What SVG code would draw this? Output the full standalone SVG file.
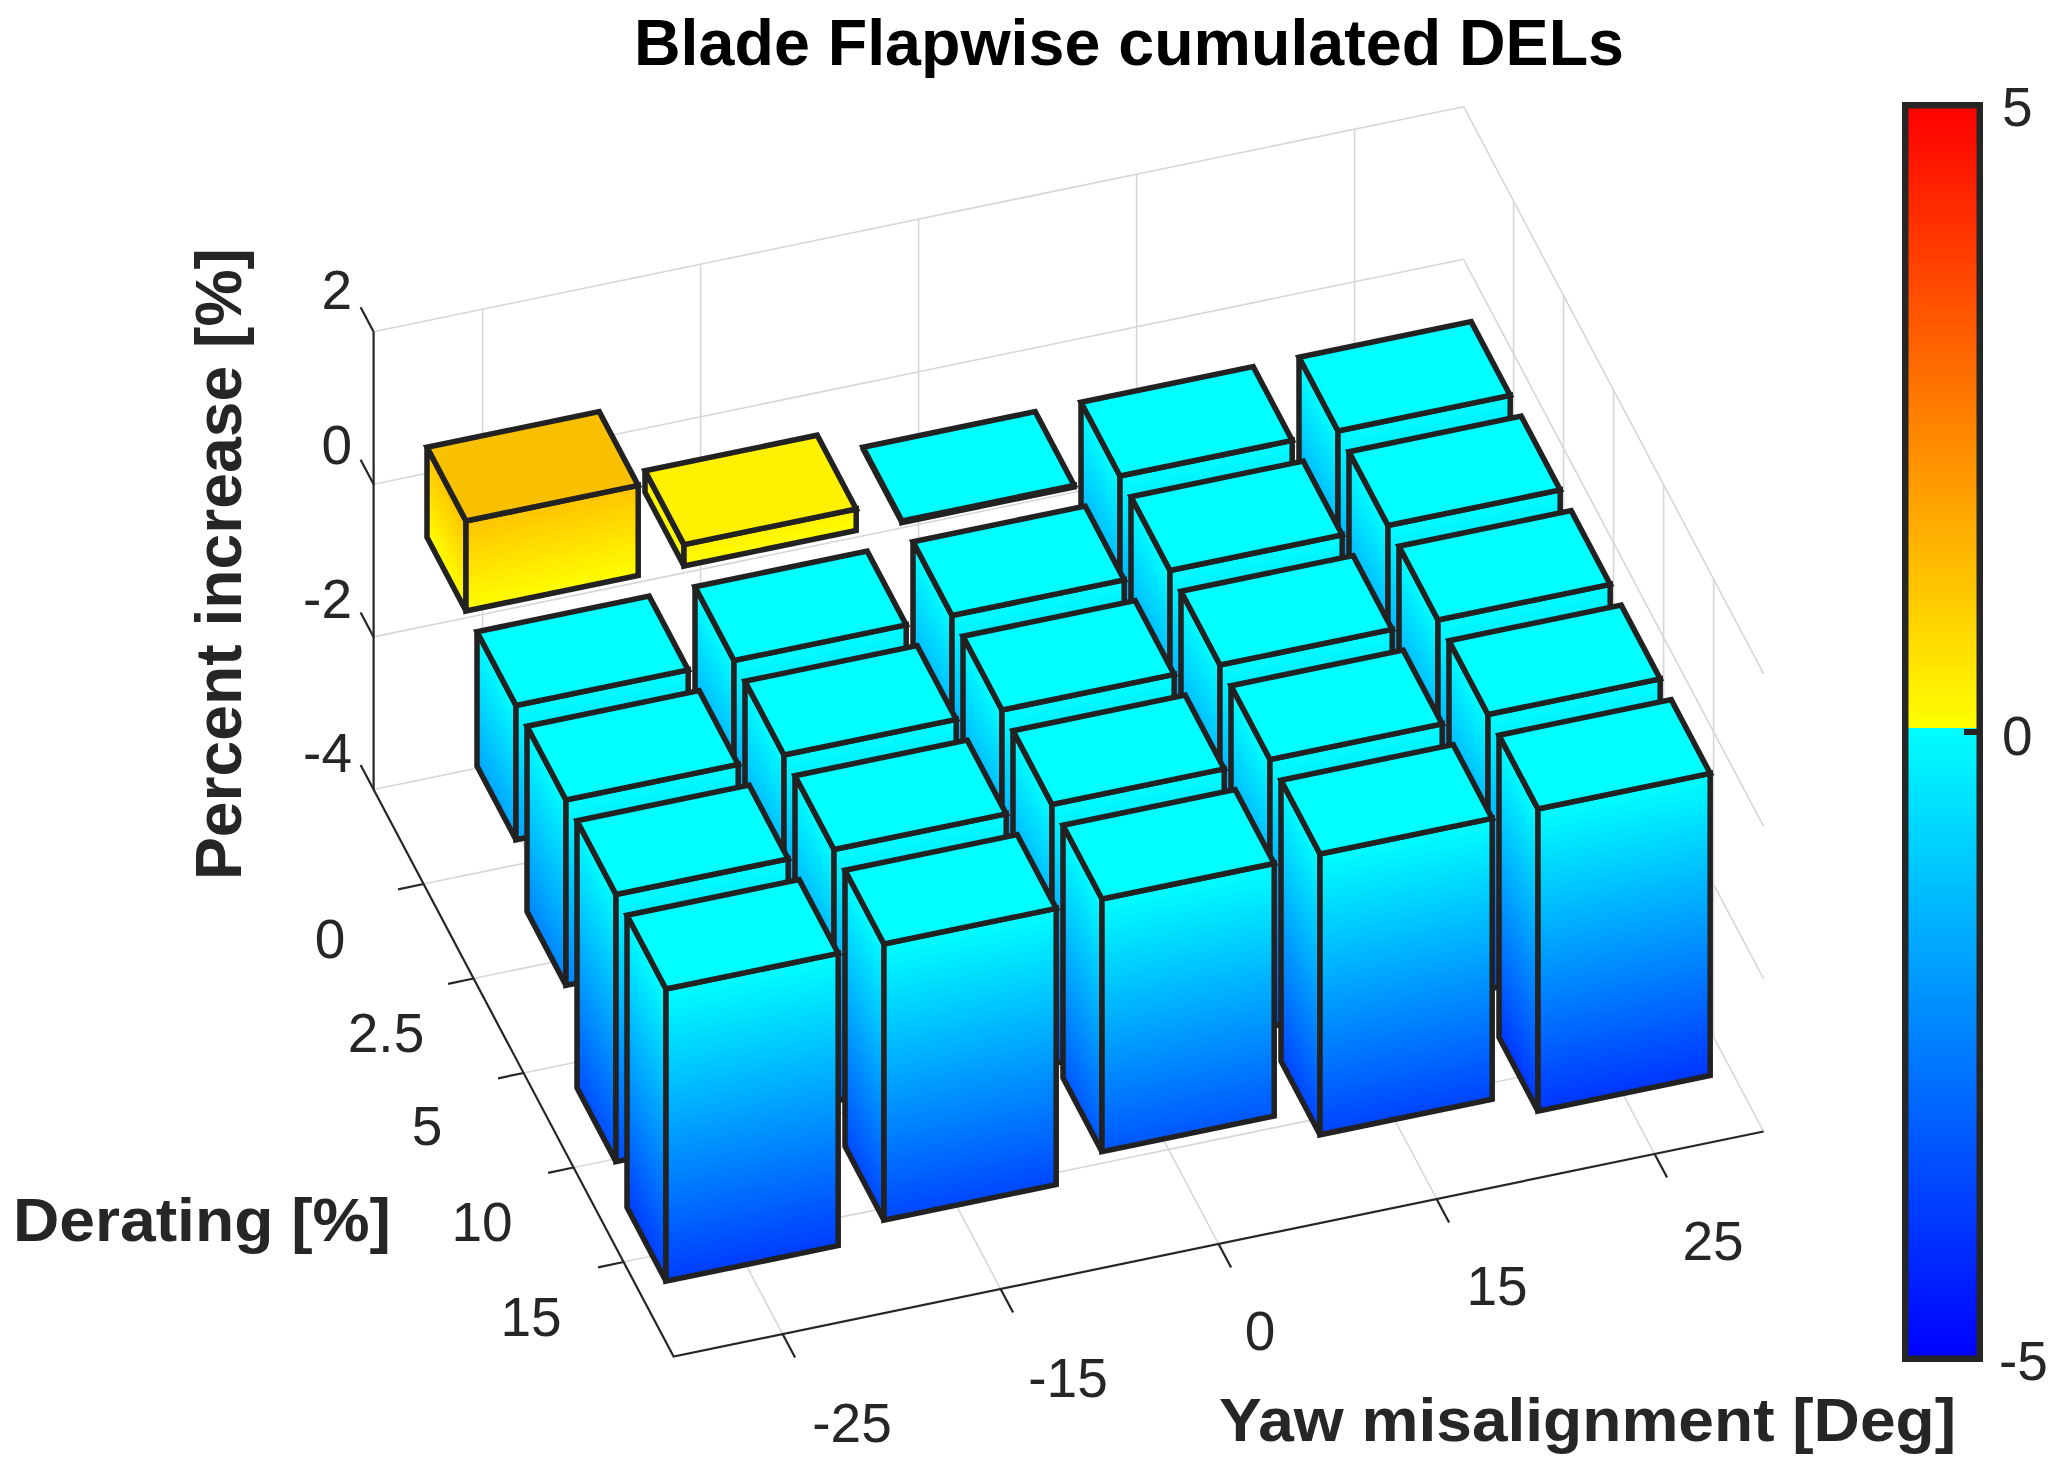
<svg xmlns="http://www.w3.org/2000/svg" width="2067" height="1474" viewBox="0 0 2067 1474">
<style>
.grid{stroke:#d6d6d6;stroke-width:1.6;fill:none}
.ax{stroke:#262626;stroke-width:2.2;fill:none}
.e{stroke:#222;stroke-width:5.5;stroke-linejoin:miter}
.t{fill:#00FFFF}
.f{fill:url(#gF)}
.l{fill:url(#gL)}
.lbl{font-family:"Liberation Sans",Arial,sans-serif;fill:#262626;font-size:55px}
.b{font-family:"Liberation Sans",Arial,sans-serif;font-weight:bold;fill:#262626}
</style>
<defs>
<linearGradient id="gF" gradientUnits="userSpaceOnUse" x1="-66.6" y1="54.7" x2="9" y2="420.6"><stop offset="0" stop-color="#00FFFF"/><stop offset="1" stop-color="#0000FF"/></linearGradient>
<linearGradient id="gL" gradientUnits="userSpaceOnUse" x1="-105.6" y1="-19.1" x2="-263.2" y2="64.2"><stop offset="0" stop-color="#00FFFF"/><stop offset="1" stop-color="#0000FF"/></linearGradient>
<linearGradient id="wF" gradientUnits="userSpaceOnUse" x1="-66.6" y1="54.7" x2="-142.2" y2="-311.2"><stop offset="0" stop-color="#FFFF00"/><stop offset="1" stop-color="#FF0000"/></linearGradient>
<linearGradient id="wL" gradientUnits="userSpaceOnUse" x1="-105.6" y1="-19.1" x2="52" y2="-102.4"><stop offset="0" stop-color="#FFFF00"/><stop offset="1" stop-color="#FF0000"/></linearGradient>
<linearGradient id="cb" x1="0" y1="0" x2="0" y2="1"><stop offset="0" stop-color="#FF0000"/><stop offset="0.4968" stop-color="#FFFF00"/><stop offset="0.4968" stop-color="#00FFFF"/><stop offset="1" stop-color="#0000FF"/></linearGradient>
<polygon id="top" points="-105.6,-19.1 66.6,-54.7 105.6,19.1 -66.6,54.7"/>
</defs>
<rect width="2067" height="1474" fill="#FFFFFF"/>

<g id="grid">
<path class="grid" d="M373.6,331.7L1463.6,106.7M373.6,484.3L1463.6,259.3M373.6,636.9L1463.6,411.9M373.6,789.5L1463.6,564.5"/>
<path class="grid" d="M482.6,309.2V767M700.6,264.2V722M918.6,219.2V677M1136.6,174.2V632M1354.6,129.2V587"/>
<path class="grid" d="M1463.6,106.7L1763.6,673.7M1463.6,259.3L1763.6,826.3M1463.6,411.9L1763.6,978.9M1463.6,564.5L1763.6,1131.5"/>
<path class="grid" d="M1513.6,201.2V659M1563.6,295.7V753.5M1613.6,390.2V848M1663.6,484.7V942.5M1713.6,579.2V1037"/>
<path class="grid" d="M482.6,767L782.6,1334M700.6,722L1000.6,1289M918.6,677L1218.6,1244M1136.6,632L1436.6,1199M1354.6,587L1654.6,1154"/>
<path class="grid" d="M423.6,884L1513.6,659M473.6,978.5L1563.6,753.5M523.6,1073L1613.6,848M573.6,1167.5L1663.6,942.5M623.6,1262L1713.6,1037"/>
</g>

<g id="axes">
<path class="ax" d="M373.6,789.5V331.7M373.6,789.5L673.6,1356.5L1763.6,1131.5"/>
<path class="ax" d="M373.6,331.7L360.6,307.2M373.6,484.3L360.6,459.8M373.6,636.9L360.6,612.4M373.6,789.5L360.6,765"/>
<path class="ax" d="M423.6,884L398.1,889.3M473.6,978.5L448.1,983.8M523.6,1073L498.1,1078.3M573.6,1167.5L548.1,1172.8M623.6,1262L598.1,1267.3"/>
<path class="ax" d="M782.6,1334L795.1,1357.6M1000.6,1289L1013.1,1312.6M1218.6,1244L1231.1,1267.6M1436.6,1199L1449.1,1222.6M1654.6,1154L1667.1,1177.6"/>
</g>

<g id="bars">
<!-- row 1 -->
<g id="bar-r1-c5" transform="translate(1404.6,376.3)">
<polygon class="e l" points="-105.6,-19.1 -66.6,54.7 -66.6,314.1 -105.6,240.3"/>
<polygon class="e f" points="-66.6,54.7 105.6,19.1 105.6,278.5 -66.6,314.1"/>
<use href="#top" class="e t"/>
</g>
<g id="bar-r1-c4" transform="translate(1186.6,421.3)">
<polygon class="e l" points="-105.6,-19.1 -66.6,54.7 -66.6,306.5 -105.6,232.7"/>
<polygon class="e f" points="-66.6,54.7 105.6,19.1 105.6,270.9 -66.6,306.5"/>
<use href="#top" class="e t"/>
</g>
<g id="bar-r1-c3" transform="translate(968.6,466.3)">
<polygon class="e l" points="-105.6,-19.1 -66.6,54.7 -66.6,56.2 -105.6,-17.6"/>
<polygon class="e f" points="-66.6,54.7 105.6,19.1 105.6,20.6 -66.6,56.2"/>
<use href="#top" class="e t"/>
</g>
<g id="bar-r1-c2" transform="translate(750.6,511.3)">
<polygon class="e" fill="url(#wL)" points="-105.6,-19.1 -66.6,54.7 -66.6,33.3 -105.6,-40.5"/>
<polygon class="e" fill="url(#wF)" points="-66.6,54.7 105.6,19.1 105.6,-2.3 -66.6,33.3"/>
<polygon class="e" fill="#FFF100" points="-105.6,-40.5 66.6,-76.1 105.6,-2.3 -66.6,33.3"/>
</g>
<g id="bar-r1-c1" transform="translate(532.6,556.3)">
<polygon class="e" fill="url(#wL)" points="-105.6,-19.1 -66.6,54.7 -66.6,-35.3 -105.6,-109.1"/>
<polygon class="e" fill="url(#wF)" points="-66.6,54.7 105.6,19.1 105.6,-70.9 -66.6,-35.3"/>
<polygon class="e" fill="#F9C000" points="-105.6,-109.1 66.6,-144.7 105.6,-70.9 -66.6,-35.3"/>
</g>
<!-- row 2 -->
<g id="bar-r2-c5" transform="translate(1454.6,470.8)">
<polygon class="e l" points="-105.6,-19.1 -66.6,54.7 -66.6,314.1 -105.6,240.3"/>
<polygon class="e f" points="-66.6,54.7 105.6,19.1 105.6,278.5 -66.6,314.1"/>
<use href="#top" class="e t"/>
</g>
<g id="bar-r2-c4" transform="translate(1236.6,515.8)">
<polygon class="e l" points="-105.6,-19.1 -66.6,54.7 -66.6,306.5 -105.6,232.7"/>
<polygon class="e f" points="-66.6,54.7 105.6,19.1 105.6,270.9 -66.6,306.5"/>
<use href="#top" class="e t"/>
</g>
<g id="bar-r2-c3" transform="translate(1018.6,560.8)">
<polygon class="e l" points="-105.6,-19.1 -66.6,54.7 -66.6,283.6 -105.6,209.8"/>
<polygon class="e f" points="-66.6,54.7 105.6,19.1 105.6,248 -66.6,283.6"/>
<use href="#top" class="e t"/>
</g>
<g id="bar-r2-c2" transform="translate(800.6,605.8)">
<polygon class="e l" points="-105.6,-19.1 -66.6,54.7 -66.6,253.1 -105.6,179.3"/>
<polygon class="e f" points="-66.6,54.7 105.6,19.1 105.6,217.5 -66.6,253.1"/>
<use href="#top" class="e t"/>
</g>
<g id="bar-r2-c1" transform="translate(582.6,650.8)">
<polygon class="e l" points="-105.6,-19.1 -66.6,54.7 -66.6,189 -105.6,115.2"/>
<polygon class="e f" points="-66.6,54.7 105.6,19.1 105.6,153.4 -66.6,189"/>
<use href="#top" class="e t"/>
</g>
<!-- row 3 -->
<g id="bar-r3-c5" transform="translate(1504.6,565.3)">
<polygon class="e l" points="-105.6,-19.1 -66.6,54.7 -66.6,321.8 -105.6,248"/>
<polygon class="e f" points="-66.6,54.7 105.6,19.1 105.6,286.2 -66.6,321.8"/>
<use href="#top" class="e t"/>
</g>
<g id="bar-r3-c4" transform="translate(1286.6,610.3)">
<polygon class="e l" points="-105.6,-19.1 -66.6,54.7 -66.6,314.1 -105.6,240.3"/>
<polygon class="e f" points="-66.6,54.7 105.6,19.1 105.6,278.5 -66.6,314.1"/>
<use href="#top" class="e t"/>
</g>
<g id="bar-r3-c3" transform="translate(1068.6,655.3)">
<polygon class="e l" points="-105.6,-19.1 -66.6,54.7 -66.6,298.9 -105.6,225.1"/>
<polygon class="e f" points="-66.6,54.7 105.6,19.1 105.6,263.3 -66.6,298.9"/>
<use href="#top" class="e t"/>
</g>
<g id="bar-r3-c2" transform="translate(850.6,700.3)">
<polygon class="e l" points="-105.6,-19.1 -66.6,54.7 -66.6,283.6 -105.6,209.8"/>
<polygon class="e f" points="-66.6,54.7 105.6,19.1 105.6,248 -66.6,283.6"/>
<use href="#top" class="e t"/>
</g>
<g id="bar-r3-c1" transform="translate(632.6,745.3)">
<polygon class="e l" points="-105.6,-19.1 -66.6,54.7 -66.6,240.1 -105.6,166.3"/>
<polygon class="e f" points="-66.6,54.7 105.6,19.1 105.6,204.5 -66.6,240.1"/>
<use href="#top" class="e t"/>
</g>
<!-- row 4 -->
<g id="bar-r4-c5" transform="translate(1554.6,659.8)">
<polygon class="e l" points="-105.6,-19.1 -66.6,54.7 -66.6,329.4 -105.6,255.6"/>
<polygon class="e f" points="-66.6,54.7 105.6,19.1 105.6,293.8 -66.6,329.4"/>
<use href="#top" class="e t"/>
</g>
<g id="bar-r4-c4" transform="translate(1336.6,704.8)">
<polygon class="e l" points="-105.6,-19.1 -66.6,54.7 -66.6,321.8 -105.6,248"/>
<polygon class="e f" points="-66.6,54.7 105.6,19.1 105.6,286.2 -66.6,321.8"/>
<use href="#top" class="e t"/>
</g>
<g id="bar-r4-c3" transform="translate(1118.6,749.8)">
<polygon class="e l" points="-105.6,-19.1 -66.6,54.7 -66.6,314.1 -105.6,240.3"/>
<polygon class="e f" points="-66.6,54.7 105.6,19.1 105.6,278.5 -66.6,314.1"/>
<use href="#top" class="e t"/>
</g>
<g id="bar-r4-c2" transform="translate(900.6,794.8)">
<polygon class="e l" points="-105.6,-19.1 -66.6,54.7 -66.6,306.5 -105.6,232.7"/>
<polygon class="e f" points="-66.6,54.7 105.6,19.1 105.6,270.9 -66.6,306.5"/>
<use href="#top" class="e t"/>
</g>
<g id="bar-r4-c1" transform="translate(682.6,839.8)">
<polygon class="e l" points="-105.6,-19.1 -66.6,54.7 -66.6,321.8 -105.6,248"/>
<polygon class="e f" points="-66.6,54.7 105.6,19.1 105.6,286.2 -66.6,321.8"/>
<use href="#top" class="e t"/>
</g>
<!-- row 5 -->
<g id="bar-r5-c5" transform="translate(1604.6,754.3)">
<polygon class="e l" points="-105.6,-19.1 -66.6,54.7 -66.6,356.8 -105.6,283"/>
<polygon class="e f" points="-66.6,54.7 105.6,19.1 105.6,321.2 -66.6,356.8"/>
<use href="#top" class="e t"/>
</g>
<g id="bar-r5-c4" transform="translate(1386.6,799.3)">
<polygon class="e l" points="-105.6,-19.1 -66.6,54.7 -66.6,335.5 -105.6,261.7"/>
<polygon class="e f" points="-66.6,54.7 105.6,19.1 105.6,299.9 -66.6,335.5"/>
<use href="#top" class="e t"/>
</g>
<g id="bar-r5-c3" transform="translate(1168.6,844.3)">
<polygon class="e l" points="-105.6,-19.1 -66.6,54.7 -66.6,307.3 -105.6,233.5"/>
<polygon class="e f" points="-66.6,54.7 105.6,19.1 105.6,271.7 -66.6,307.3"/>
<use href="#top" class="e t"/>
</g>
<g id="bar-r5-c2" transform="translate(950.6,889.3)">
<polygon class="e l" points="-105.6,-19.1 -66.6,54.7 -66.6,330.9 -105.6,257.1"/>
<polygon class="e f" points="-66.6,54.7 105.6,19.1 105.6,295.3 -66.6,330.9"/>
<use href="#top" class="e t"/>
</g>
<g id="bar-r5-c1" transform="translate(732.6,934.3)">
<polygon class="e l" points="-105.6,-19.1 -66.6,54.7 -66.6,346.9 -105.6,273.1"/>
<polygon class="e f" points="-66.6,54.7 105.6,19.1 105.6,311.3 -66.6,346.9"/>
<use href="#top" class="e t"/>
</g>
</g>

<g id="colorbar">
<rect x="1905.25" y="105.25" width="74.5" height="1253.5" fill="url(#cb)" stroke="#262626" stroke-width="6.5"/>
<line x1="1964" y1="732" x2="1978" y2="732" stroke="#262626" stroke-width="6"/>
<text class="lbl" x="2002" y="126">5</text>
<text class="lbl" x="2002" y="755">0</text>
<text class="lbl" x="1999" y="1380">-5</text>
</g>

<g id="ticklabels">
<text class="lbl" text-anchor="end" x="352" y="309">2</text>
<text class="lbl" text-anchor="end" x="352" y="464">0</text>
<text class="lbl" text-anchor="end" x="352" y="618">-2</text>
<text class="lbl" text-anchor="end" x="352" y="772">-4</text>
<text class="lbl" text-anchor="middle" x="330" y="958">0</text>
<text class="lbl" text-anchor="middle" x="386" y="1052">2.5</text>
<text class="lbl" text-anchor="middle" x="427" y="1145">5</text>
<text class="lbl" text-anchor="middle" x="482" y="1241">10</text>
<text class="lbl" text-anchor="middle" x="531" y="1336">15</text>
<text class="lbl" text-anchor="middle" x="852" y="1442">-25</text>
<text class="lbl" text-anchor="middle" x="1068" y="1397">-15</text>
<text class="lbl" text-anchor="middle" x="1260" y="1350">0</text>
<text class="lbl" text-anchor="middle" x="1497" y="1305">15</text>
<text class="lbl" text-anchor="middle" x="1713" y="1260">25</text>
</g>

<g id="labels">
<text class="b" x="634" y="65" font-size="64" style="fill:#000" textLength="990" lengthAdjust="spacingAndGlyphs">Blade Flapwise cumulated DELs</text>
<text class="b" x="13" y="1241" font-size="61" textLength="378" lengthAdjust="spacingAndGlyphs">Derating [%]</text>
<text class="b" x="1219" y="1441" font-size="61" textLength="737" lengthAdjust="spacingAndGlyphs">Yaw misalignment [Deg]</text>
<text class="b" transform="translate(241,880) rotate(-90)" font-size="64" textLength="632" lengthAdjust="spacingAndGlyphs">Percent increase [%]</text>
</g>
</svg>
